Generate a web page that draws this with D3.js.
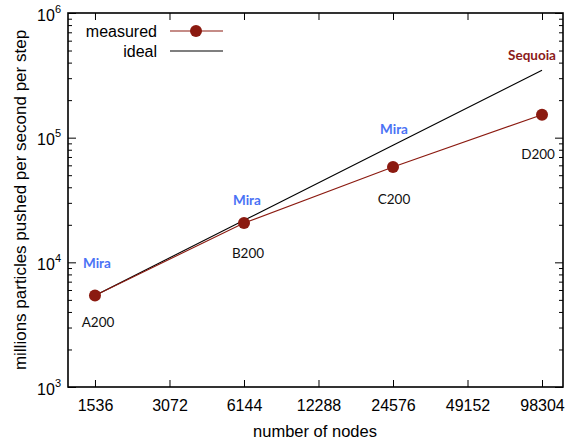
<!DOCTYPE html>
<html><head><meta charset="utf-8">
<script src="https://cdn.jsdelivr.net/npm/d3@7"></script>
<style>
body{margin:0;background:#fff;}
svg{display:block;}
</style></head>
<body>
<svg id="chart" width="580" height="445"></svg>
<script>
// ---- data ----
const nodes = [1536, 6144, 24576, 98304];
const measured = [5430, 20650, 58100, 152900];
const ideal = [5430, 21720, 86880, 347520];
const runLabels = ["A200", "B200", "C200", "D200"];
const machines = ["Mira", "Mira", "Mira", "Sequoia"];
const xTickLabels = [1536, 3072, 6144, 12288, 24576, 49152, 98304];
const yMajorTicks = [1e3, 1e4, 1e5, 1e6];
const legendLabels = ["measured", "ideal"];

// ---- layout ----
const L = 68, R = 563, T = 13, B = 387;
const svg = d3.select("#chart");
const x = d3.scaleLog().base(2).domain([1195, 119500]).range([L, R]);
const y = d3.scaleLog().domain([1e3, 1e6]).range([B, T]);
const font = "'Liberation Sans', Arial, sans-serif";
const red = "#8b1a10";

const yMinor = [];
for (let d = 1e3; d < 1e6; d *= 10) for (let k = 2; k <= 9; k++) yMinor.push(d * k);

function styleAxis(g) {
  g.select(".domain").remove();
  g.selectAll(".tick line").attr("stroke", "#000").attr("stroke-width", 1);
  g.selectAll("text").attr("font-family", font).attr("font-size", 16).attr("fill", "#000");
}

// bottom axis
svg.append("g").attr("transform", `translate(0,${B})`)
  .call(d3.axisBottom(x).tickValues(xTickLabels).tickFormat(d3.format("d")).tickSizeInner(-7).tickSizeOuter(0).tickPadding(12.6))
  .call(styleAxis);
// top axis (mirror)
svg.append("g").attr("transform", `translate(0,${T})`)
  .call(d3.axisTop(x).tickValues(xTickLabels).tickFormat("").tickSizeInner(-7).tickSizeOuter(0))
  .call(styleAxis);
// left axis majors
const gl = svg.append("g").attr("transform", `translate(${L},0)`)
  .call(d3.axisLeft(y).tickValues(yMajorTicks).tickFormat("").tickSizeInner(-8).tickSizeOuter(0))
  .call(styleAxis);
gl.selectAll(".tick").append("text")
  .attr("font-family", font).attr("font-size", 16).attr("fill", "#000")
  .attr("text-anchor", "end").attr("x", -7).attr("y", 7)
  .each(function(d) {
    const t = d3.select(this);
    t.append("tspan").text("10");
    t.append("tspan").attr("font-size", 11).attr("dy", -8).text(String(Math.round(Math.log10(d))));
  });
svg.append("g").attr("transform", `translate(${L},0)`)
  .call(d3.axisLeft(y).tickValues(yMinor).tickFormat("").tickSizeInner(-4).tickSizeOuter(0))
  .call(styleAxis);
// right axis (mirror)
svg.append("g").attr("transform", `translate(${R},0)`)
  .call(d3.axisRight(y).tickValues(yMajorTicks).tickFormat("").tickSizeInner(-8).tickSizeOuter(0))
  .call(styleAxis);
svg.append("g").attr("transform", `translate(${R},0)`)
  .call(d3.axisRight(y).tickValues(yMinor).tickFormat("").tickSizeInner(-4).tickSizeOuter(0))
  .call(styleAxis);

// frame
svg.append("rect").attr("x", L).attr("y", T).attr("width", R - L).attr("height", B - T)
  .attr("fill", "none").attr("stroke", "#000").attr("stroke-width", 1.6);

// ideal line
const line = d3.line().x(d => x(d[0])).y(d => y(d[1]));
svg.append("path").datum(nodes.map((n, i) => [n, ideal[i]]))
  .attr("d", line).attr("fill", "none").attr("stroke", "#000").attr("stroke-width", 1.1);
// measured line + points
svg.append("path").datum(nodes.map((n, i) => [n, measured[i]]))
  .attr("d", line).attr("fill", "none").attr("stroke", red).attr("stroke-width", 1.1);
svg.selectAll("circle.pt").data(nodes).join("circle").attr("class", "pt")
  .attr("cx", d => x(d)).attr("cy", (d, i) => y(measured[i])).attr("r", 6).attr("fill", red);

// run labels (below the points)
const runDy = [27, 30, 32, 40];
const runDx = [3, 4, 1, -4];
svg.selectAll("text.run").data(runLabels).join("text").attr("class", "run")
  .attr("x", (d, i) => x(nodes[i]) + runDx[i]).attr("y", (d, i) => y(measured[i]) + runDy[i] + 4.5)
  .attr("text-anchor", "middle").attr("font-family", "Lato, 'Open Sans', sans-serif")
  .attr("font-size", 13.5).attr("fill", "#111").text(d => d);

// machine labels (above the ideal line)
const machDy = [-32, -20, -16, -15];
const machDx = [2, 3, 1, -10];
svg.selectAll("text.mach").data(machines).join("text").attr("class", "mach")
  .attr("x", (d, i) => x(nodes[i]) + machDx[i]).attr("y", (d, i) => y(ideal[i]) + machDy[i] + 4.5)
  .attr("text-anchor", "middle").attr("font-family", "Lato, 'Open Sans', sans-serif")
  .attr("font-weight", "bold").attr("font-size", 13.5)
  .attr("fill", d => d === "Sequoia" ? "#8b1a1a" : "#4a72f5").text(d => d);

// legend
const lg = svg.append("g");
legendLabels.forEach((lab, i) => {
  const ly = 31 + i * 20;
  lg.append("text").attr("x", 157).attr("y", ly + 5.5).attr("text-anchor", "end")
    .attr("font-family", font).attr("font-size", 16).attr("fill", "#000").text(lab);
  lg.append("line").attr("x1", 170).attr("x2", 223).attr("y1", ly).attr("y2", ly)
    .attr("stroke", i === 0 ? red : "#000").attr("stroke-width", 1.1);
  if (i === 0) lg.append("circle").attr("cx", 196).attr("cy", ly).attr("r", 6).attr("fill", red);
});

// axis titles
svg.append("text").attr("x", 315).attr("y", 437).attr("text-anchor", "middle")
  .attr("font-family", font).attr("font-size", 16.5).attr("fill", "#000").text("number of nodes");
svg.append("text").attr("transform", `translate(26,${(T + B) / 2}) rotate(-90)`)
  .attr("text-anchor", "middle")
  .attr("font-family", font).attr("font-size", 17).attr("fill", "#000")
  .text("millions particles pushed per second per step");
</script>
</body></html>
